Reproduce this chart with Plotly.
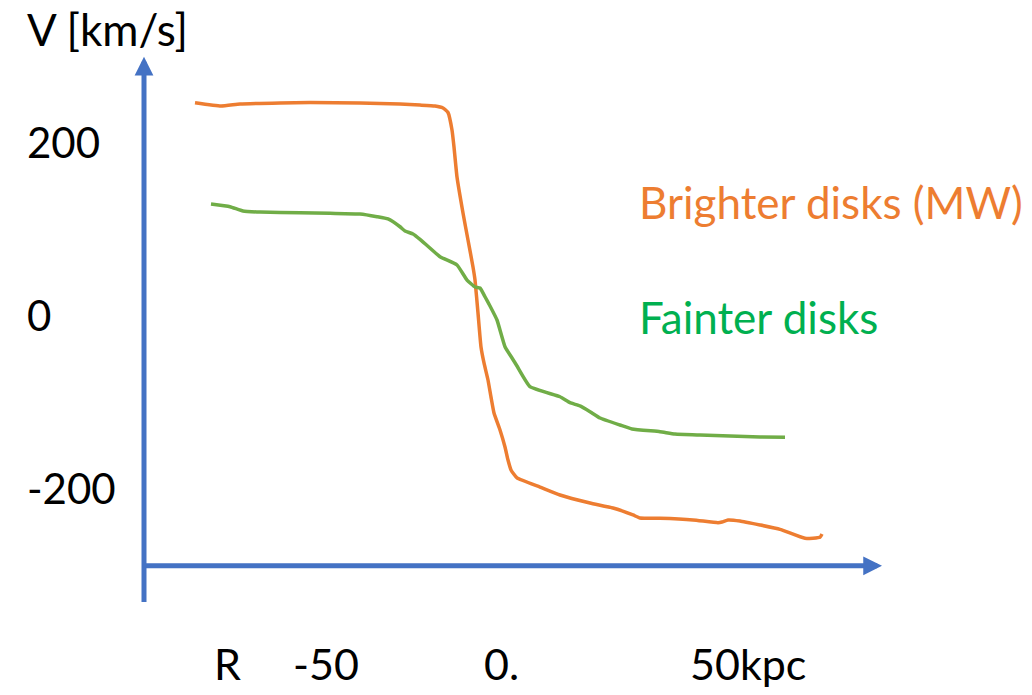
import plotly.graph_objects as go

# rotation curves (R in kpc, V in km/s)
bright_r = [-58, -52.8, -49, -41, -35, -25, -17, -13, -10, -8.4, -7.4, -6.6, -6.2, -5.6,
            -4.4, -3.4, -2.4, -2, -1.4, -0.8, -0.2, 0.6, 1.2, 1.8, 3, 4, 4.6, 5.2, 6.4,
            11, 15, 21, 25.6, 29.6, 31, 35, 41.6, 46.6, 47.4, 48.6, 51, 55, 59, 64, 67, 67.4]
bright_v = [248.9, 245.1, 247.4, 248.6, 249.1, 248.6, 247.4, 246.2, 245.1, 242.8, 237.6, 217.3, 197.7, 163,
            121.4, 90.2, 59, 44, 5.8, -33.5, -52, -71.7, -91.4, -109.8, -129.5, -149.1, -164.2, -175.7, -184.9,
            -195.4, -204.6, -213.9, -219.7, -227.7, -231.2, -231.6, -233.5, -236.6, -235.8, -233.5, -234.7,
            -239.3, -244.3, -254.7, -253.5, -249.7]

faint_r = [-54.8, -51, -48.4, -45, -37, -31, -25, -21.6, -19.4, -17, -16, -14.4, -13, -9, -5.6,
           -3.6, -2, -1, 0, 1, 2.4, 4, 5.4, 6.4, 9, 15, 17, 19, 21, 23, 27, 29.4, 35, 38, 43, 49, 55, 60]
faint_v = [131.8, 128.7, 123.7, 122.5, 121.7, 121, 120.2, 117.1, 114.5, 105.5, 100.6, 97.1, 91, 70.9, 61.3,
           43.9, 35.8, 34.7, 24.6, 13.9, -2.3, -33.2, -46.2, -55.5, -79.4, -91, -97.9, -101.7, -108.3,
           -115.6, -123.7, -128.3, -131.4, -134.1, -135.3, -136.4, -137.6, -137.9]

v_ticks = [200, 0, -200]
v_labels = ["200", "0", "-200"]
r_ticks = [-51.6, -31.8, 3.2, 52.6]
r_labels = ["R", "-50", "0.", "50kpc"]

orange = "#ED7D31"
green_line = "#70AD47"
green_text = "#00B050"
blue = "#4472C4"
font = "Lato, Calibri, sans-serif"

fig = go.Figure()
fig.add_trace(go.Scatter(x=bright_r, y=bright_v, mode="lines",
                         line=dict(color=orange, width=3.5, shape="spline", smoothing=0.4)))
fig.add_trace(go.Scatter(x=faint_r, y=faint_v, mode="lines",
                         line=dict(color=green_line, width=3.5, shape="spline", smoothing=0.4)))

annotations = []
# axis arrows
annotations.append(dict(x=-68.2, y=302, ax=-68.2, ay=-330, xref="x", yref="y", axref="x", ayref="y",
                        text="", showarrow=True, arrowhead=2, arrowsize=0.75, arrowwidth=5, arrowcolor=blue))
annotations.append(dict(x=79.4, y=-286.5, ax=-68.2, ay=-286.5, xref="x", yref="y", axref="x", ayref="y",
                        text="", showarrow=True, arrowhead=2, arrowsize=0.75, arrowwidth=5, arrowcolor=blue))

annotations.append(dict(x=-92, y=332, xref="x", yref="y", text="V [km/s]", showarrow=False, yshift=2,
                        xanchor="left", yanchor="middle", font=dict(family=font, size=44, color="black")))
for v, lab in zip(v_ticks, v_labels):
    annotations.append(dict(x=-92, y=v, xref="x", yref="y", text=lab, showarrow=False, yshift=3,
                            xanchor="left", yanchor="middle", font=dict(family=font, size=42, color="black")))
for r, lab in zip(r_ticks, r_labels):
    annotations.append(dict(x=r, y=(318 - 667) / 0.865, xref="x", yref="y", text=lab, showarrow=False, yshift=3,
                            xanchor="center", yanchor="middle", font=dict(family=font, size=43, color="black")))

annotations.append(dict(x=30.4, y=131, xref="x", yref="y", text="Brighter disks (MW)", showarrow=False, yshift=3,
                        xanchor="left", yanchor="middle", font=dict(family=font, size=44, color=orange)))
annotations.append(dict(x=30.4, y=-2, xref="x", yref="y", text="Fainter disks", showarrow=False, yshift=3,
                        xanchor="left", yanchor="middle", font=dict(family=font, size=44, color=green_text)))

# page body has an 8px margin, so the figure is 16px smaller than the window
fig.update_layout(
    width=1016, height=679,
    margin=dict(l=0, r=0, t=0, b=0),
    paper_bgcolor="white", plot_bgcolor="white",
    showlegend=False,
    xaxis=dict(range=[-95.4, 107.8], visible=False, fixedrange=True),
    yaxis=dict(range=[-426.6, 358.4], visible=False, fixedrange=True),
    annotations=annotations,
)

fig.write_html("out.html", config={"displayModeBar": False})
